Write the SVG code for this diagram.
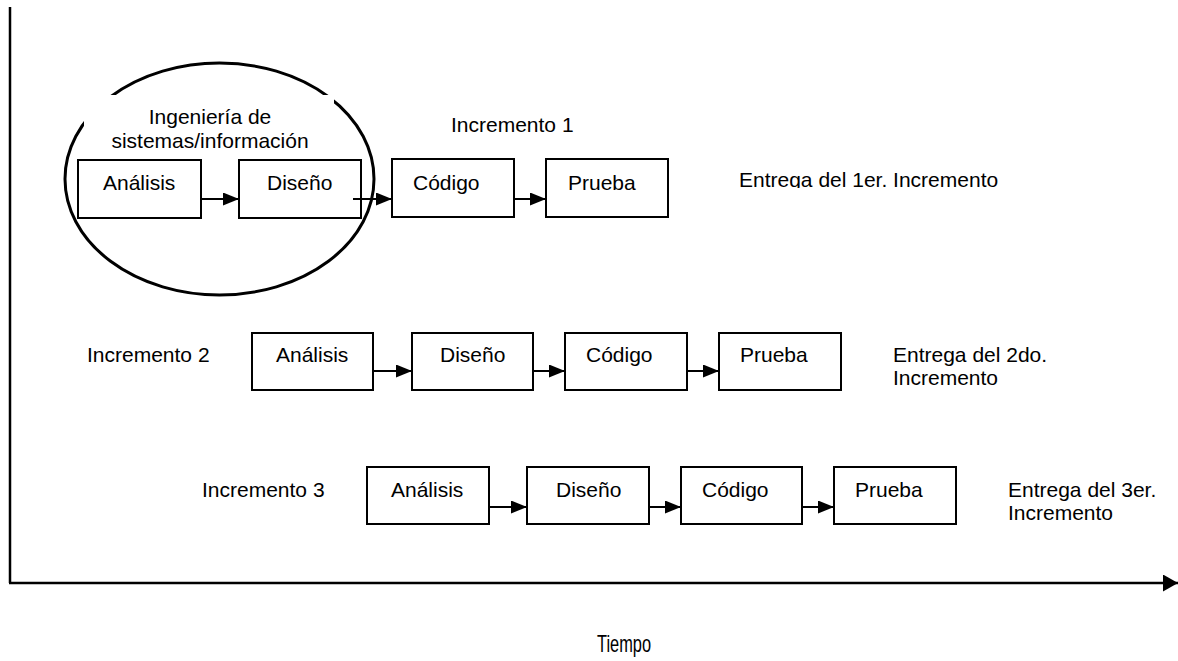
<svg xmlns="http://www.w3.org/2000/svg" width="1178" height="661" viewBox="0 0 1178 661">
  <defs>
    <style>
      .lbl { font-family: "Liberation Sans", Arial, sans-serif; font-size: 21px; fill: #000; }
      .box { fill: #fff; stroke: #000; stroke-width: 2; }
      .conn { stroke: #000; stroke-width: 2; fill: none; }
      .axis { stroke: #000; stroke-width: 2.5; fill: none; }
    </style>
    <marker id="arrow" viewBox="0 0 16 13" refX="16" refY="6.5" markerWidth="16" markerHeight="13" markerUnits="userSpaceOnUse" orient="auto">
      <path d="M0,0 L16,6.5 L0,13 Z" fill="#000"/>
    </marker>
    <marker id="axisArrow" viewBox="0 0 15 17" refX="15" refY="8.5" markerWidth="15" markerHeight="17" markerUnits="userSpaceOnUse" orient="auto">
      <path d="M0,0 L15,8.5 L0,17 Z" fill="#000"/>
    </marker>
    <clipPath id="clip1"><rect x="700" y="150" width="400" height="38"/></clipPath>
    <clipPath id="clip3"><rect x="180" y="470" width="200" height="28"/></clipPath>
  </defs>
  <rect width="1178" height="661" fill="#fff"/>

  <!-- Axes -->
  <g id="axes">
    <line class="axis" x1="10" y1="7" x2="10" y2="583"/>
    <line class="axis" x1="9" y1="583" x2="1178" y2="583" marker-end="url(#axisArrow)"/>
    <text id="tiempo" class="lbl" x="597" y="652" style="font-size:24px" textLength="54" lengthAdjust="spacingAndGlyphs">Tiempo</text>
  </g>

  <!-- Systems engineering ellipse with its label panel -->
  <g id="ingenieria">
    <ellipse cx="219.5" cy="179" rx="154.5" ry="116" fill="none" stroke="#000" stroke-width="3"/>
    <rect x="84" y="95" width="250" height="55" fill="#fff"/>
    <text class="lbl" x="210" y="124" text-anchor="middle">Ingeniería de</text>
    <text class="lbl" x="210" y="148" text-anchor="middle">sistemas/información</text>
  </g>

  <!-- Connectors -->
  <g id="connectors">
    <line class="conn" x1="201" y1="199" x2="239" y2="199" marker-end="url(#arrow)"/>
    <line class="conn" x1="353" y1="199" x2="392" y2="199" marker-end="url(#arrow)"/>
    <line class="conn" x1="507" y1="199" x2="546" y2="199" marker-end="url(#arrow)"/>

    <line class="conn" x1="373" y1="371" x2="412" y2="371" marker-end="url(#arrow)"/>
    <line class="conn" x1="526" y1="371" x2="565" y2="371" marker-end="url(#arrow)"/>
    <line class="conn" x1="680" y1="371" x2="719" y2="371" marker-end="url(#arrow)"/>

    <line class="conn" x1="489" y1="507" x2="527" y2="507" marker-end="url(#arrow)"/>
    <line class="conn" x1="642" y1="507" x2="681" y2="507" marker-end="url(#arrow)"/>
    <line class="conn" x1="795" y1="507" x2="834" y2="507" marker-end="url(#arrow)"/>
  </g>

  <!-- Increment 1 (first two boxes sit inside the ellipse, unfilled) -->
  <g id="inc1-label"><text class="lbl" x="451" y="132">Incremento 1</text></g>
  <g id="inc1-analisis">
    <rect class="box" x="78" y="160" width="123" height="58" style="fill:none"/>
    <text class="lbl" x="103" y="190">Análisis</text>
  </g>
  <g id="inc1-diseno">
    <rect class="box" x="239" y="160" width="122" height="58" style="fill:none"/>
    <text class="lbl" x="267" y="190">Diseño</text>
  </g>
  <g id="inc1-codigo">
    <rect class="box" x="392" y="159" width="122" height="58"/>
    <text class="lbl" x="413" y="190">Código</text>
  </g>
  <g id="inc1-prueba">
    <rect class="box" x="546" y="159" width="122" height="58"/>
    <text class="lbl" x="568" y="190">Prueba</text>
  </g>
  <g id="inc1-entrega">
    <text class="lbl" x="739" y="187" clip-path="url(#clip1)">Entrega del 1er. Incremento</text>
  </g>

  <!-- Increment 2 -->
  <g id="inc2-label"><text class="lbl" x="87" y="362">Incremento 2</text></g>
  <g id="inc2-analisis">
    <rect class="box" x="252" y="333" width="121" height="57"/>
    <text class="lbl" x="276" y="362">Análisis</text>
  </g>
  <g id="inc2-diseno">
    <rect class="box" x="412" y="333" width="121" height="57"/>
    <text class="lbl" x="440" y="362">Diseño</text>
  </g>
  <g id="inc2-codigo">
    <rect class="box" x="565" y="333" width="122" height="57"/>
    <text class="lbl" x="586" y="362">Código</text>
  </g>
  <g id="inc2-prueba">
    <rect class="box" x="719" y="333" width="122" height="57"/>
    <text class="lbl" x="740" y="362">Prueba</text>
  </g>
  <g id="inc2-entrega">
    <text class="lbl" x="893" y="362">Entrega del 2do.</text>
    <text class="lbl" x="893" y="385">Incremento</text>
  </g>

  <!-- Increment 3 -->
  <g id="inc3-label"><text class="lbl" x="202" y="497" clip-path="url(#clip3)">Incremento 3</text></g>
  <g id="inc3-analisis">
    <rect class="box" x="367" y="467" width="122" height="57"/>
    <text class="lbl" x="391" y="497">Análisis</text>
  </g>
  <g id="inc3-diseno">
    <rect class="box" x="527" y="467" width="122" height="57"/>
    <text class="lbl" x="556" y="497">Diseño</text>
  </g>
  <g id="inc3-codigo">
    <rect class="box" x="681" y="467" width="121" height="57"/>
    <text class="lbl" x="702" y="497">Código</text>
  </g>
  <g id="inc3-prueba">
    <rect class="box" x="834" y="467" width="122" height="57"/>
    <text class="lbl" x="855" y="497">Prueba</text>
  </g>
  <g id="inc3-entrega">
    <text class="lbl" x="1008" y="497">Entrega del 3er.</text>
    <text class="lbl" x="1008" y="520">Incremento</text>
  </g>
</svg>
